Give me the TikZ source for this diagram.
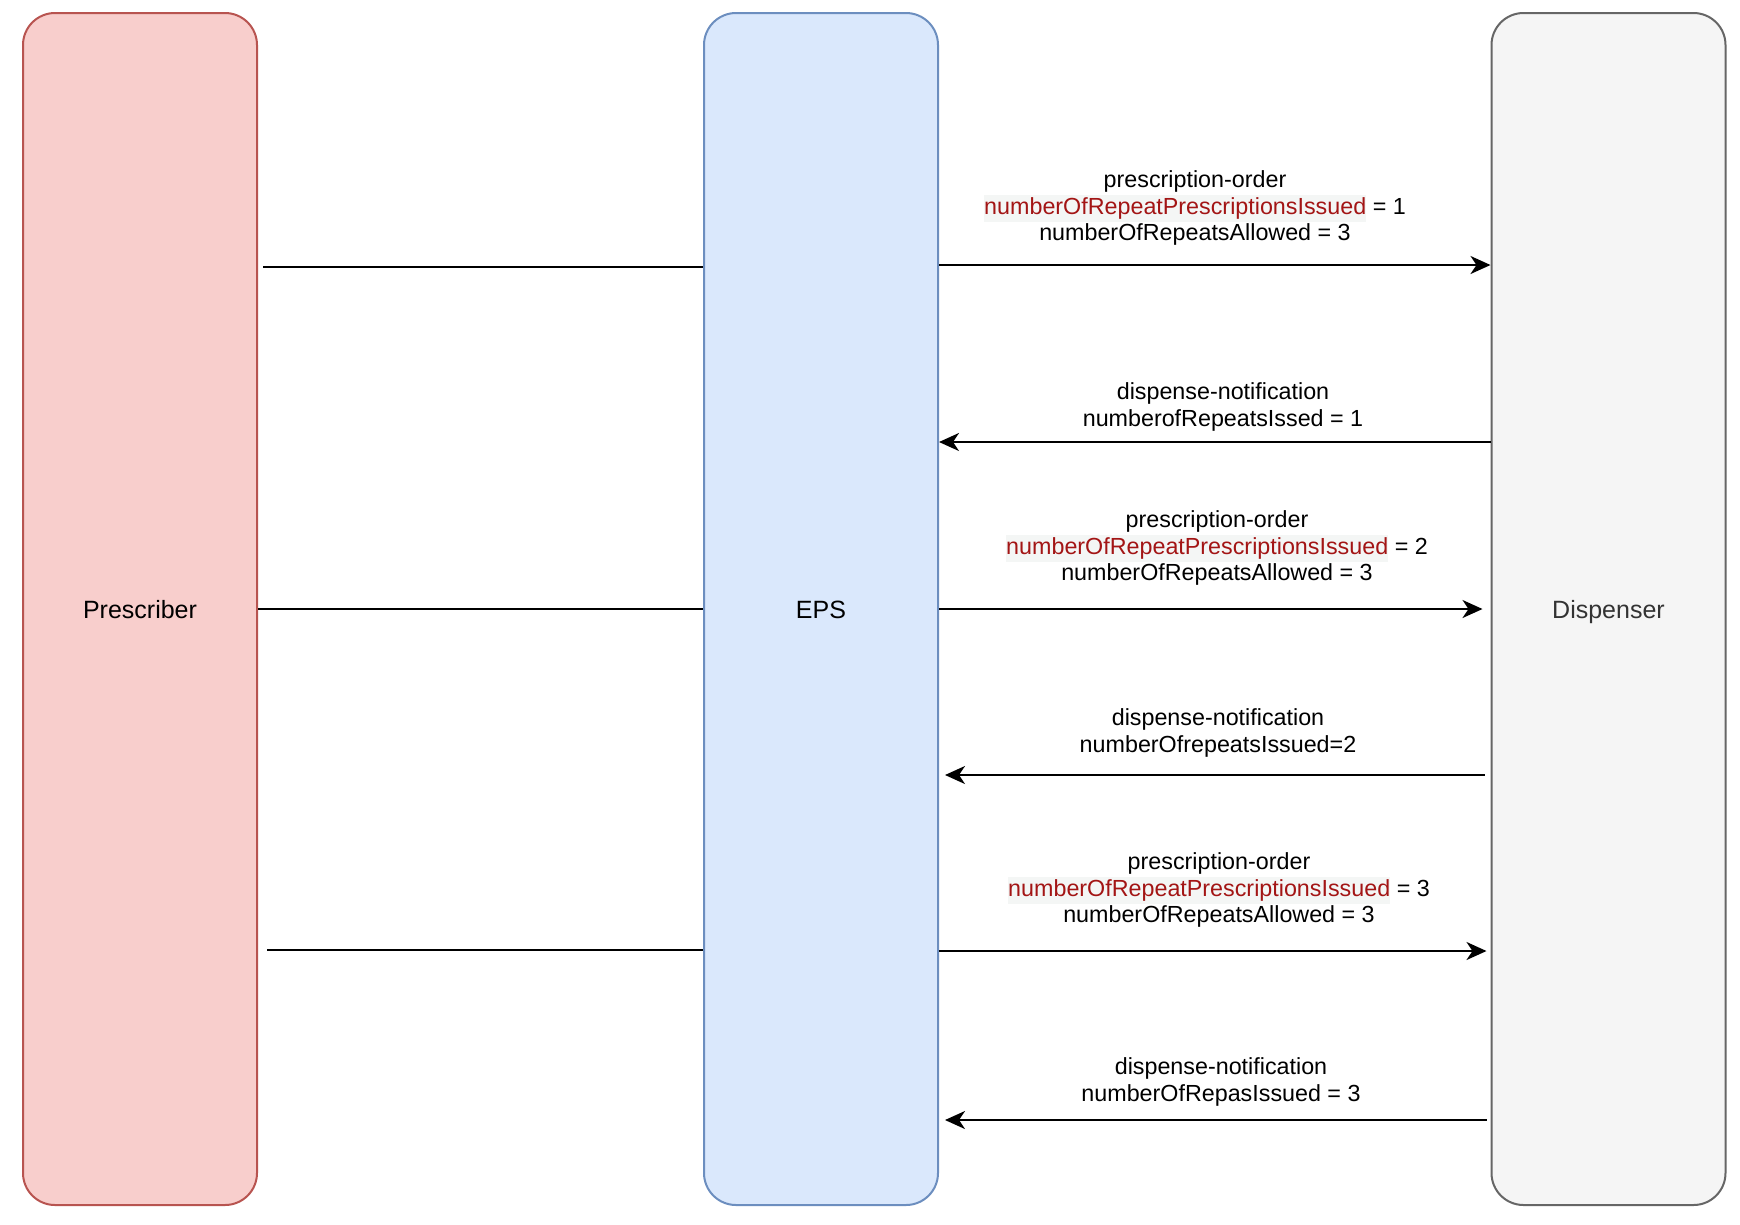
\documentclass[tikz,border=0pt]{standalone}
\usepackage{fontspec}
\setmainfont{Liberation Sans}
\usetikzlibrary{arrows.meta,calc}
\definecolor{presfill}{HTML}{F8CECC}
\definecolor{presdraw}{HTML}{B85450}
\definecolor{epsfill}{HTML}{DAE8FC}
\definecolor{epsdraw}{HTML}{6C8EBF}
\definecolor{dispfill}{HTML}{F5F5F5}
\definecolor{dispdraw}{HTML}{666666}
\definecolor{disptext}{HTML}{333333}
\definecolor{codered}{HTML}{A31515}
\definecolor{hlbg}{HTML}{F4F6F5}
\newcommand\hlred[1]{{\setlength{\fboxsep}{0pt}\colorbox{hlbg}{\strut\textcolor{codered}{#1}}}}
\tikzset{
  lane/.style={rectangle, rounded corners=32pt, line width=2pt, minimum width=234pt, minimum height=1192pt, inner sep=0pt},
  lanetext/.style={font=\fontsize{25}{30}\selectfont, inner sep=0pt, anchor=base},
  msg/.style={line width=2.2pt, draw=black},
  arr/.style={msg, -{Stealth[length=20pt,width=18pt,inset=6pt]}},
  lbl/.style={align=center, font=\fontsize{23.3}{26.8}\selectfont, inner sep=0pt}
}
\begin{document}
\begin{tikzpicture}[x=1pt,y=-1pt]
\useasboundingbox (0,0) rectangle (1740,1224);
\node[lane, fill=presfill, draw=presdraw] (pres) at (140,609) {};
\node[lane, fill=epsfill, draw=epsdraw] (eps) at (821,609) {};
\node[lane, fill=dispfill, draw=dispdraw] (disp) at (1608.5,609) {};
\node[lanetext] (prest) at (pres.center |- 0,618) {Prescriber};
\node[lanetext] (epst) at (eps.center |- 0,618) {EPS};
\node[lanetext, text=disptext] (dispt) at (disp.center |- 0,618) {Dispenser};

% prescriber to EPS lines
\draw[msg] ([xshift=5pt]pres.east |- 0,267) -- (eps.west |- 0,267);
\draw[msg] (pres.east |- 0,609) -- (eps.west |- 0,609);
\draw[msg] ([xshift=9pt]pres.east |- 0,950) -- (eps.west |- 0,950);

% EPS <-> Dispenser
\draw[arr] (eps.east |- 0,265) -- (disp.west |- 0,265);
\draw[arr] (disp.west |- 0,442) -- (eps.east |- 0,442);
\draw[arr] (eps.east |- 0,609) -- ([xshift=-8pt]disp.west |- 0,609);
\draw[arr] ([xshift=-6pt]disp.west |- 0,775) -- ([xshift=6pt]eps.east |- 0,775);
\draw[arr] (eps.east |- 0,951) -- ([xshift=-4pt]disp.west |- 0,951);
\draw[arr] ([xshift=-4pt]disp.west |- 0,1120) -- ([xshift=6pt]eps.east |- 0,1120);

% labels
\node[lbl] (l1) at (1195,208) {prescription-order\\\hlred{numberOfRepeatPrescriptionsIssued} = 1\\numberOfRepeatsAllowed = 3};
\node[lbl] (l2) at (1223,407) {dispense-notification\\numberofRepeatsIssed = 1};
\node[lbl] (l3) at (1217,548) {prescription-order\\\hlred{numberOfRepeatPrescriptionsIssued} = 2\\numberOfRepeatsAllowed = 3};
\node[lbl] (l4) at (1218,733) {dispense-notification\\numberOfrepeatsIssued=2};
\node[lbl] (l5) at (1219,890) {prescription-order\\\hlred{numberOfRepeatPrescriptionsIssued} = 3\\numberOfRepeatsAllowed = 3};
\node[lbl] (l6) at (1221,1082) {dispense-notification\\numberOfRepasIssued = 3};
\end{tikzpicture}
\end{document}
